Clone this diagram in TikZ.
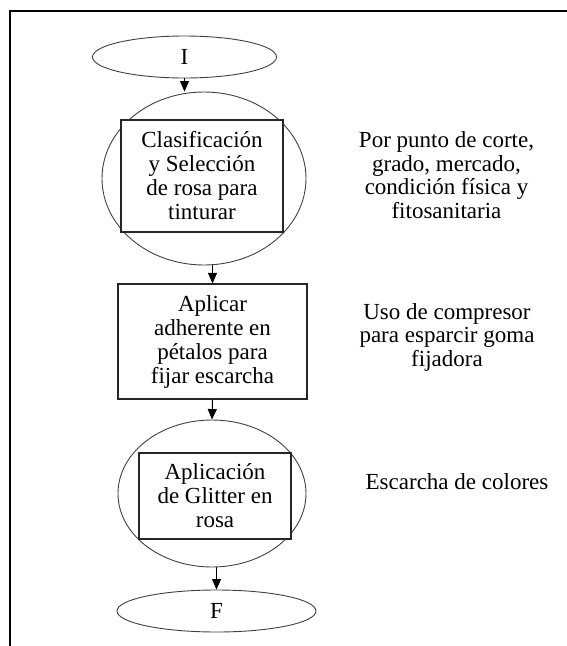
\documentclass[tikz,border=0pt]{standalone}
\usepackage{fontspec}
\setmainfont{Liberation Serif}
\usetikzlibrary{shapes.geometric, arrows.meta}

\begin{document}
\begin{tikzpicture}[x=1pt, y=-1pt,
	oval/.style={draw=black!75, line width=0.9pt, ellipse, inner sep=0pt},
	box/.style={draw=black!85, line width=1.2pt, fill=white, inner sep=0pt, align=center, font=\fontsize{23}{24}\selectfont},
	note/.style={align=center, font=\fontsize{23}{23.5}\selectfont},
	flow/.style={line width=1pt, -{Triangle[length=10.5pt, width=9pt]}}]
	\useasboundingbox (0,0) rectangle (567,646);
	\draw[line width=2pt] (10,646) -- (10,11) -- (567,11);
	% flujo
	\node[oval, minimum width=184pt, minimum height=42pt, font=\fontsize{23}{24}\selectfont] (ini) at (184.5,57) {I};
	\node[oval, minimum width=204pt, minimum height=173pt] (c1) at (204,178.5) {};
	\node[box, minimum width=162pt, minimum height=112pt] (r1) at (202,176) {Clasificación\\y Selección\\de rosa para\\tinturar};
	\node[box, minimum width=189pt, minimum height=115pt] (r2) at (212.5,341.5) {Aplicar\\adherente en\\pétalos para\\fijar escarcha};
	\node[oval, minimum width=188pt, minimum height=147pt] (c3) at (212,493.5) {};
	\node[box, minimum width=152pt, minimum height=86pt] (r3) at (215,496) {Aplicación\\de Glitter en\\rosa};
	\node[oval, minimum width=199pt, minimum height=42pt, font=\fontsize{23}{24}\selectfont] (fin) at (216.5,611) {F};
	\draw[flow] (ini.south) -- (ini.south |- c1.north);
	\draw[flow] (r2.north |- c1.south) -- (r2.north);
	\draw[flow] (r2.south) -- (c3.north);
	\draw[flow] (fin.north |- c3.south) -- (fin.north);
	% notas
	\node[note] (n1) at (446.5,175) {Por punto de corte,\\grado, mercado,\\condición física y\\fitosanitaria};
	\node[note] (n2) at (447,337) {Uso de compresor\\para esparcir goma\\fijadora};
	\node[note] (n3) at (457,482) {Escarcha de colores};
\end{tikzpicture}
\end{document}
